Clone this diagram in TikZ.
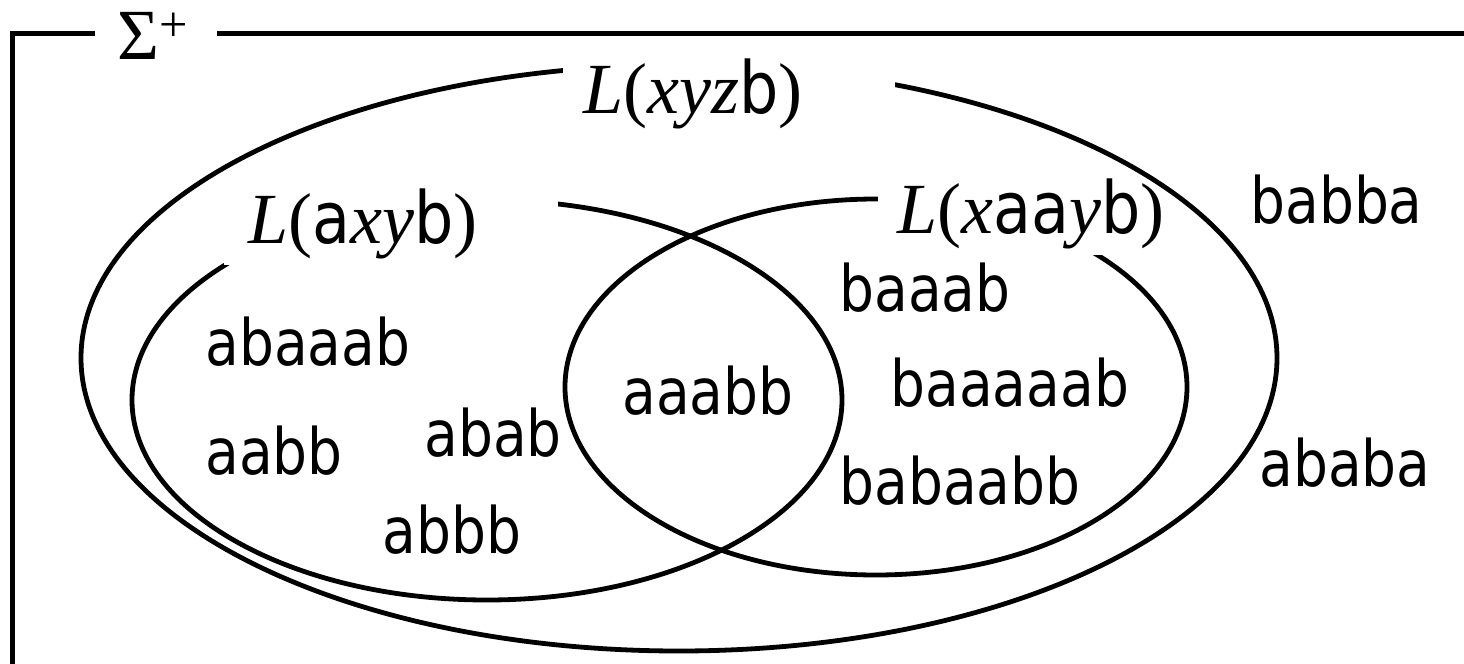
\documentclass[tikz,border=0pt]{standalone}
\usepackage{fontspec}
\setmainfont{DejaVu Sans}[FakeStretch=0.86]
\newfontfamily\tms{Liberation Serif}
\tikzset{
  setline/.style={line width=2.4pt,black},
  frameline/.style={line width=2.5pt,black},
  word/.style={font=\fontsize{32}{36}\selectfont,inner sep=0pt,anchor=base west},
  setname/.style={font=\fontsize{36}{40}\selectfont,fill=white,align=left,inner ysep=3pt,anchor=base west}
}
\newcommand{\lng}[1]{{\tms\itshape L}{\tms(}#1{\tms)}}
\newcommand{\vr}[1]{{\tms\itshape #1}}

\begin{document}
\begin{tikzpicture}[x=0.5pt,y=-0.5pt]
\useasboundingbox (0,0) rectangle (1464,664);
% ---------------- inner sets ----------------
\draw[setline] (487,400) ellipse [x radius=177.5pt,y radius=100pt];
\draw[setline] (876,387) ellipse [x radius=155.5pt,y radius=94pt];
\node[setname,inner xsep=12pt,text width=143pt] (laxyb) at (224,243) {\lng{a\vr{xy}b}};
\node[setname,inner xsep=9.5pt,text width=140pt] (lxaayb) at (878,233) {\lng{\vr{x}aa\vr{y}b}};
% ---------------- outer set ----------------
\draw[setline] (679,358) ellipse [x radius=299pt,y radius=146.5pt];
\node[setname,inner xsep=10pt,text width=146pt] (lxyzb) at (563,113) {\lng{\vr{xyz}b}};
% ---------------- universe ----------------
\draw[frameline] (12,664) -- (12,33) -- (1464,33);
\node[setname,inner xsep=11pt,text width=39pt] (sigma) at (95,60) {{\tms Σ\textsuperscript{+}}};
% ---------------- words ----------------
\node[word] (abaaab) at (205,365) {abaaab};
\node[word] (aabb) at (205,474) {aabb};
\node[word] (abab) at (424,456) {abab};
\node[word] (abbb) at (382,553) {abbb};
\node[word] (aaabb) at (622,414) {aaabb};
\node[word] (baaab) at (839,311) {baaab};
\node[word] (baaaaab) at (890,406) {baaaaab};
\node[word] (babaabb) at (839,504) {babaabb};
\node[word] (babba) at (1250,223) {babba};
\node[word] (ababa) at (1259,486) {ababa};
\end{tikzpicture}
\end{document}
